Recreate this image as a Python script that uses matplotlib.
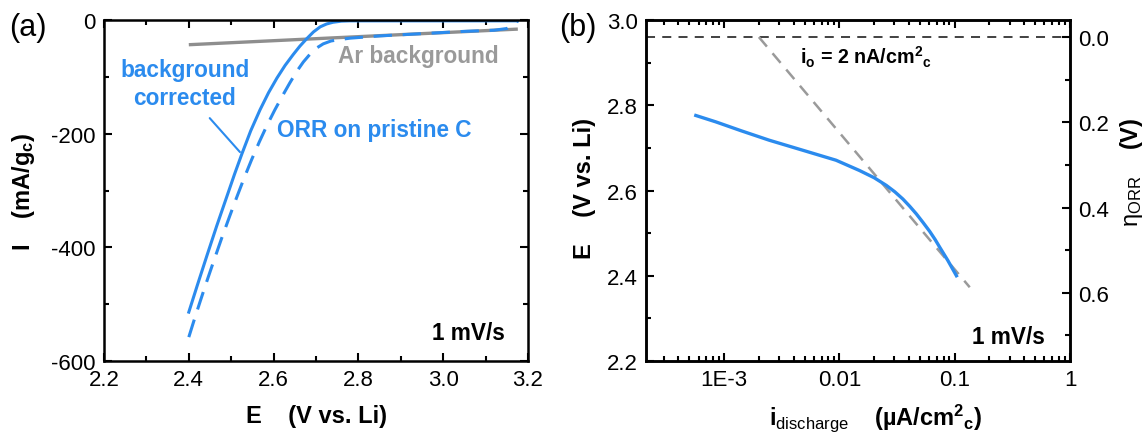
import numpy as np
import matplotlib
matplotlib.use("Agg")
import matplotlib.pyplot as plt
from matplotlib.ticker import (FixedLocator, MultipleLocator, LogLocator,
                               NullFormatter, FormatStrFormatter)

plt.rcParams['font.family'] = ['Liberation Sans', 'DejaVu Sans']
plt.rcParams['mathtext.fontset'] = 'custom'
plt.rcParams['mathtext.rm'] = 'Liberation Sans'
plt.rcParams['mathtext.it'] = 'Liberation Sans:italic'
plt.rcParams['mathtext.bf'] = 'Liberation Sans:bold'
plt.rcParams['axes.unicode_minus'] = False

BLUE = '#2B8BEE'
GRAY = '#8E8E8E'
TGRAY = '#9A9A9A'

# ---- (a) linear sweep voltammetry, 1 mV/s ----
E_corrected = [2.400, 2.420, 2.443, 2.466, 2.490, 2.508, 2.525, 2.546, 2.568,
               2.588, 2.608, 2.627, 2.646, 2.662, 2.678, 2.694, 2.710, 2.725,
               2.740, 2.760, 2.780, 2.900, 3.000, 3.100, 3.175]
I_corrected = [-514, -467, -414, -362, -310, -271, -236, -195, -158,
               -128, -102, -80, -61, -46, -33, -21, -12, -7,
               -4, -2, -1.5, -1.5, -1.5, -1.5, -1.5]

E_pristine = [2.400, 2.413, 2.426, 2.441, 2.457, 2.477, 2.497, 2.513, 2.530,
              2.548, 2.566, 2.584, 2.603, 2.622, 2.638, 2.655, 2.670, 2.686,
              2.700, 2.717, 2.735, 2.750, 2.780, 2.850, 2.950, 3.050, 3.120,
              3.150, 3.165, 3.175]
I_pristine = [-558, -527, -497, -463, -428, -385, -344, -312, -279,
              -246, -215, -186, -158, -132, -111, -90, -74, -60,
              -50, -42, -37, -35, -32, -28, -24, -20, -18,
              -15, -9, -2]

E_argon = [2.400, 3.176]
I_argon = [-43.5, -16.0]

# ---- (b) Tafel plot ----
i_discharge = [5.68e-4, 8.47e-4, 1.41e-3, 2.46e-3, 5.01e-3, 9.35e-3,
               1.49e-2, 2.00e-2, 2.55e-2, 3.02e-2, 3.55e-2, 4.07e-2,
               4.65e-2, 5.31e-2, 6.07e-2, 6.76e-2, 7.41e-2, 8.71e-2, 0.1035]
E_discharge = [2.776, 2.761, 2.740, 2.718, 2.693, 2.671,
               2.647, 2.630, 2.612, 2.597, 2.580, 2.563,
               2.545, 2.525, 2.504, 2.485, 2.467, 2.436, 2.400]

E_eq = 2.96          # equilibrium potential (V vs. Li)
i_exchange = 2e-3    # uA/cm2 (2 nA/cm2)
tafel_i = [i_exchange, 0.135]
tafel_E = [E_eq, 2.373]

x_ticks_b = [1e-3, 1e-2, 1e-1, 1]
x_labels_b = ['1E-3', '0.01', '0.1', '1']
eta_ticks = [0.0, 0.2, 0.4, 0.6]
eta_labels = ['0.0', '0.2', '0.4', '0.6']

W, H = 1147, 435
fig = plt.figure(figsize=(W / 100, H / 100), dpi=100)

def frac(x0, y0, x1, y1):
    return [x0 / W, 1 - y1 / H, (x1 - x0) / W, (y1 - y0) / H]

TICK_FS = 16
LABEL_FS = 17
ANN_FS = 16.3

def style(ax):
    for s in ax.spines.values():
        s.set_linewidth(1.8)
    ax.tick_params(which='both', direction='in', top=True, right=True,
                   labelsize=TICK_FS, width=1.5, pad=6)
    ax.tick_params(which='major', length=6)
    ax.tick_params(which='minor', length=3.5)

# panel (a)
ax1 = fig.add_axes(frac(104, 21, 528, 362))
ax1.plot(E_argon, I_argon, color=GRAY, lw=2.4, solid_capstyle='butt')
ax1.plot(E_pristine, I_pristine, color=BLUE, lw=2.2, dashes=(6, 3.5),
         dash_joinstyle='round')
ax1.plot(E_corrected, I_corrected, color=BLUE, lw=2.2,
         solid_joinstyle='round')
ax1.set_xlim(2.2, 3.2)
ax1.set_ylim(-600, 0)
ax1.xaxis.set_major_locator(MultipleLocator(0.2))
ax1.xaxis.set_minor_locator(MultipleLocator(0.1))
ax1.yaxis.set_major_locator(MultipleLocator(200))
ax1.yaxis.set_minor_locator(MultipleLocator(100))
ax1.xaxis.set_major_formatter(FormatStrFormatter('%.1f'))
style(ax1)

ax1.text(2.391, -112, 'background\ncorrected', color=BLUE, fontsize=ANN_FS,
         fontweight='bold', ha='center', va='center', linespacing=1.25)
ax1.annotate('', xy=(2.525, -236), xytext=(2.445, -169),
             arrowprops=dict(arrowstyle='-', color=BLUE, lw=1.5))
ax1.text(2.608, -192, 'ORR on pristine C', color=BLUE, fontsize=ANN_FS,
         fontweight='bold', ha='left', va='center')
ax1.text(2.752, -63, 'Ar background', color=TGRAY, fontsize=ANN_FS,
         fontweight='bold', ha='left', va='center')
ax1.text(0.946, 0.085, '1 mV/s', transform=ax1.transAxes, fontsize=ANN_FS,
         fontweight='bold', ha='right', va='center')
ax1.text(0.5, -0.161, 'E    (V vs. Li)', transform=ax1.transAxes,
         fontsize=LABEL_FS, fontweight='bold', ha='center', va='center')
ax1.text(-0.191, 0.5, r'I    (mA/g$_\mathbf{c}$)', transform=ax1.transAxes,
         fontsize=LABEL_FS, fontweight='bold', ha='center', va='center',
         rotation=90)

# panel (b)
ax2 = fig.add_axes(frac(646, 21, 1070, 362))
ax2.set_xscale('log')
ax2.axhline(E_eq, color='#333333', lw=1.3, dashes=(5, 4))
ax2.plot(tafel_i, tafel_E, color=TGRAY, lw=1.8, dashes=(5, 3.5))
ax2.plot(i_discharge, E_discharge, color=BLUE, lw=2.4,
         solid_joinstyle='round')
ax2.set_xlim(2.1e-4, 1)
ax2.set_ylim(2.2, 3.0)
ax2.xaxis.set_major_locator(FixedLocator(x_ticks_b))
ax2.set_xticklabels(x_labels_b)
ax2.xaxis.set_minor_locator(LogLocator(base=10, subs=np.arange(2, 10)))
ax2.xaxis.set_minor_formatter(NullFormatter())
ax2.yaxis.set_major_locator(MultipleLocator(0.2))
ax2.yaxis.set_minor_locator(MultipleLocator(0.1))
ax2.yaxis.set_major_formatter(FormatStrFormatter('%.1f'))
style(ax2)
ax2.tick_params(axis='y', which='both', right=False)

ax3 = ax2.twinx()
ax3.set_ylim(E_eq - 2.2, E_eq - 3.0)
ax3.yaxis.set_major_locator(FixedLocator(eta_ticks))
ax3.set_yticklabels(eta_labels)
ax3.yaxis.set_minor_locator(MultipleLocator(0.1))
for s in ax3.spines.values():
    s.set_linewidth(1.8)
ax3.tick_params(which='both', direction='in', labelsize=TICK_FS, width=1.5, pad=6)
ax3.tick_params(which='major', length=6)
ax3.tick_params(which='minor', length=3.5)

ax2.text(0.363, 0.894, r'i$_\mathbf{o}$ = 2 nA/cm$^\mathbf{2}$$_\mathbf{c}$',
         transform=ax2.transAxes, fontsize=14.2, fontweight='bold',
         ha='left', va='center')
ax2.text(0.941, 0.073, '1 mV/s', transform=ax2.transAxes, fontsize=ANN_FS,
         fontweight='bold', ha='right', va='center')
ax2.text(0.542, -0.165,
         r'i$_\mathrm{discharge}$    (µA/cm$^\mathbf{2}$$_\mathbf{c}$)',
         transform=ax2.transAxes, fontsize=LABEL_FS, fontweight='bold',
         ha='center', va='center')
ax2.text(-0.144, 0.51, 'E    (V vs. Li)', transform=ax2.transAxes,
         fontsize=LABEL_FS, fontweight='bold', ha='center', va='center',
         rotation=90)
ax2.text(1.146, 0.557, r'η$_\mathrm{ORR}$    $\mathbf{(V)}$',
         transform=ax2.transAxes, fontsize=LABEL_FS, ha='center',
         va='center', rotation=90)

fig.text(28 / W, 1 - 28 / H, '(a)', fontsize=22, ha='center', va='center')
fig.text(578 / W, 1 - 28 / H, '(b)', fontsize=22, ha='center', va='center')

fig.savefig('out.png', dpi=100)
